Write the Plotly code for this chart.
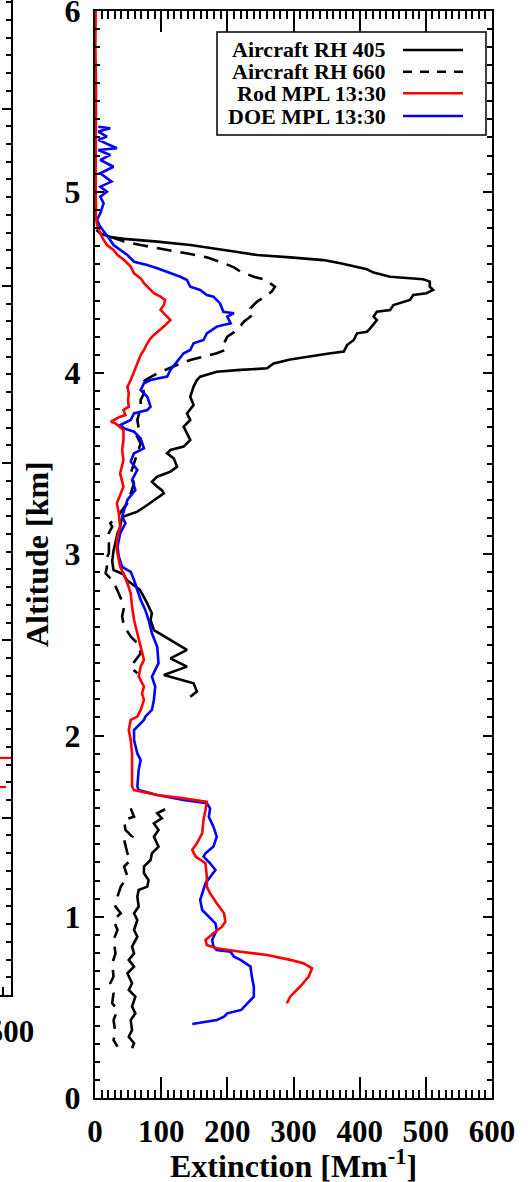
import plotly.graph_objects as go

# ---------------- data ----------------
rh405_alt = [4.79, 4.77, 4.75, 4.74, 4.725, 4.706, 4.679, 4.651, 4.638, 4.623, 4.605, 4.572, 4.554, 4.531,
             4.517, 4.504, 4.476, 4.458, 4.44, 4.43, 4.403, 4.375, 4.348, 4.338, 4.311, 4.292, 4.246, 4.228,
             4.219, 4.182, 4.154, 4.118, 4.109, 4.09, 4.075, 4.053, 4.026, 4.017, 4.007, 3.98, 3.961, 3.925,
             3.869, 3.823, 3.777, 3.741, 3.704, 3.667, 3.631, 3.594, 3.575, 3.557, 3.529, 3.483, 3.456, 3.428,
             3.40, 3.373, 3.354, 3.336, 3.309, 3.272, 3.235, 3.217, 3.208, 3.19, 3.15, 3.115, 3.06, 3.02, 2.96,
             2.913, 2.89, 2.858, 2.803, 2.766, 2.729, 2.674, 2.637, 2.582, 2.527, 2.472, 2.426, 2.38, 2.334,
             2.315, 2.288, 2.242, 2.214,
             None,
             1.593, 1.571, 1.543, 1.515, 1.479, 1.442, 1.387, 1.35, 1.313, 1.277, 1.24, 1.203, 1.166, 1.148,
             1.111, 1.056, 1.019, 0.982, 0.927, 0.89, 0.835, 0.798, 0.762, 0.725, 0.688, 0.633, 0.596, 0.559,
             0.504, 0.467, 0.43, 0.375, 0.338, 0.302, 0.274]
rh405_ext = [2, 8, 23, 44, 94, 144, 195, 245, 295, 345, 371, 411, 421, 446,
             496, 506, 506, 511, 501, 481, 476, 451, 446, 426, 421, 426, 416, 411,
             396, 391, 381, 376, 356, 320, 295, 270, 260, 220, 184, 159, 154, 149,
             144, 149, 139, 144, 134, 139, 144, 134, 114, 109, 119, 124, 114, 94,
             86, 94, 101, 104, 94, 79, 64, 49, 43, 40, 38, 34, 31, 28, 26,
             28, 43, 48, 68, 74, 79, 86, 84, 89, 114, 139, 114, 139, 104,
             124, 149, 154, 144,
             None,
             106, 94, 101, 89, 96, 89, 96, 86, 84, 74, 74, 81, 79, 66,
             64, 66, 59, 64, 59, 64, 56, 59, 51, 59, 49, 56, 51, 61,
             56, 61, 54, 56, 51, 59, 56]

rh660_alt = [4.752, 4.725, 4.706, 4.688, 4.669, 4.657, 4.638, 4.605, 4.583, 4.559, 4.531, 4.513, 4.495, 4.476,
             4.449, 4.43, 4.394, 4.357, 4.329, 4.311, 4.283, 4.237, 4.201, 4.164, 4.127, 4.109, 4.09, 4.072,
             4.044, 4.008, 3.998, 3.961, 3.943, 3.888, 3.851, 3.814, 3.777, 3.741, 3.695, 3.667, 3.612, 3.557,
             3.502, 3.446, 3.391, 3.336, 3.281, 3.244, 3.208, 3.171, 3.152, 3.097, 3.06, 3.005, 2.968, 2.931,
             2.895, 2.849, 2.803, 2.766, 2.711, 2.656, 2.601, 2.546, 2.509, 2.454, 2.38, 2.362, 2.343,
             None,
             1.598, 1.552, 1.534, 1.479, 1.442, 1.424, 1.35, 1.313, 1.277, 1.222, 1.166, 1.111, 1.056, 1.019,
             0.982, 0.927, 0.872, 0.798, 0.743, 0.67, 0.633, 0.578, 0.523, 0.486, 0.43, 0.357, 0.32, 0.283]
rh660_ext = [23, 44, 69, 94, 124, 144, 169, 195, 210, 220, 240, 260, 265, 272,
             267, 260, 245, 235, 240, 235, 225, 215, 200, 195, 197, 184, 164, 144,
             124, 99, 94, 76, 71, 74, 69, 69, 66, 64, 66, 61, 69, 64,
             59, 54, 59, 54, 49, 41, 34, 23, 26, 18, 21, 21, 16, 18,
             16, 28, 34, 38, 44, 41, 44, 54, 64, 69, 54, 58, 64,
             None,
             54, 59, 44, 46, 56, 44, 49, 54, 44, 49, 39, 34, 31, 39,
             28, 34, 28, 31, 26, 28, 23, 28, 26, 34, 28, 31, 28, 34]

rod_alt = [6.0, 5.8, 5.6, 5.4, 5.2, 5.0, 4.9, 4.881, 4.82, 4.789, 4.77, 4.734, 4.706, 4.679, 4.651, 4.623,
           4.587, 4.55, 4.522, 4.495, 4.467, 4.44, 4.421, 4.403, 4.375, 4.348, 4.311, 4.292, 4.256, 4.228,
           4.21, 4.191, 4.164, 4.127, 4.099, 4.053, 4.026, 3.998, 3.961, 3.925, 3.888, 3.851, 3.814, 3.796,
           3.768, 3.759, 3.741, 3.731, 3.722, 3.686, 3.631, 3.575, 3.52, 3.446, 3.373, 3.281, 3.226, 3.152,
           3.079, 3.024, 2.931, 2.895, 2.839, 2.784, 2.711, 2.637, 2.564, 2.49, 2.417, 2.38, 2.325, 2.27,
           2.233, 2.196, 2.141, 2.104, 2.086, 2.03, 1.975, 1.901, 1.81, 1.718, 1.699, 1.672, 1.653, 1.634,
           1.589, 1.534, 1.46, 1.405, 1.369, 1.332, 1.295, 1.222, 1.166, 1.129, 1.074, 1.019, 0.973, 0.945,
           0.909, 0.872, 0.844, 0.826, 0.807, 0.789, 0.762, 0.743, 0.716, 0.67, 0.615, 0.559, 0.522]
rod_ext = [1, 0.5, 1.5, 1, 1.5, 1, 1.5, 1, 3, 6, 8, 13, 18, 28, 34, 44,
           54, 59, 69, 74, 81, 89, 99, 106, 104, 99, 109, 114, 104, 94,
           89, 84, 79, 74, 69, 64, 61, 59, 54, 49, 51, 50, 51, 43,
           46, 38, 30, 24, 31, 43, 43, 41, 43, 38, 43, 33, 36, 38,
           33, 33, 38, 43, 49, 54, 56, 59, 64, 69, 74, 69, 66, 74,
           71, 74, 69, 64, 54, 51, 54, 56, 56, 56, 59, 94, 134, 169,
           167, 164, 162, 154, 147, 152, 167, 169, 169, 174, 184, 195, 197, 192,
           179, 167, 169, 184, 220, 260, 295, 315, 328, 323, 310, 295, 290]

doe_alt = [5.359, 5.35, 5.332, 5.304, 5.286, 5.24, 5.23, 5.203, 5.175, 5.138, 5.102, 5.056, 5.028, 5.0,
           4.973, 4.936, 4.881, 4.844, 4.807, 4.771, 4.734, 4.706, 4.679, 4.651, 4.614, 4.596, 4.578, 4.559,
           4.531, 4.513, 4.476, 4.458, 4.43, 4.421, 4.384, 4.338, 4.330, 4.311, 4.274, 4.256, 4.219, 4.182,
           4.164, 4.127, 4.109, 4.063, 4.017, 3.98, 3.961, 3.943, 3.906, 3.869, 3.814, 3.796, 3.777, 3.741,
           3.713, 3.694, 3.676, 3.639, 3.584, 3.557, 3.511, 3.465, 3.41, 3.355, 3.3, 3.244, 3.208, 3.171,
           3.115, 3.042, 2.987, 2.931, 2.903, 2.858, 2.803, 2.748, 2.693, 2.637, 2.564, 2.49, 2.399, 2.325,
           2.27, 2.196, 2.141, 2.104, 2.086, 2.03, 1.975, 1.901, 1.864, 1.81, 1.718, 1.699, 1.672, 1.644,
           1.626, 1.598, 1.552, 1.497, 1.442, 1.387, 1.35, 1.332, 1.295, 1.258, 1.185, 1.148, 1.093, 1.037,
           1.001, 0.964, 0.927, 0.872, 0.835, 0.817, 0.807, 0.78, 0.762, 0.725, 0.67, 0.615, 0.559, 0.522,
           0.486, 0.467, 0.449, 0.43, 0.412, 0.408]
doe_ext = [5, 23, 5, 18, 5, 33, 5, 23, 8, 28, 8, 25, 8, 18,
           8, 13, 8, 3, 8, 16, 23, 28, 38, 49, 59, 79, 94, 109,
           129, 139, 144, 159, 169, 179, 189, 194, 210, 200, 205, 184, 169, 164,
           149, 144, 134, 124, 114, 109, 84, 74, 69, 79, 84, 79, 59, 54,
           38, 44, 59, 69, 74, 59, 54, 64, 56, 61, 49, 44, 41, 46,
           38, 34, 36, 41, 54, 59, 64, 69, 76, 81, 86, 94, 96, 86,
           91, 89, 86, 76, 74, 59, 59, 64, 69, 66, 64, 66, 94, 134,
           169, 174, 172, 179, 184, 179, 167, 164, 174, 182, 167, 164, 159, 162,
           172, 182, 184, 177, 179, 184, 205, 210, 220, 235, 237, 240, 240, 230,
           221, 200, 195, 184, 154, 147]

# partial neighbouring panel (only its right edge is visible)
left_alt = [1.337, 1.337, None, 1.173, 1.173]
left_ext = [470, 510, None, 470, 493.6]

legend_names = ["Aircraft RH 405", "Aircraft RH 660", "Rod MPL 13:30", "DOE MPL 13:30"]
legend_colors = ["black", "black", "#ff0000", "#0000ff"]
legend_dashes = ["solid", "dash", "solid", "solid"]

# ---------------- figure ----------------
W, H = 530, 1182
FONT = "Liberation Serif"
LW = 2.6

fig = go.Figure()
fig.add_trace(go.Scatter(x=rh405_ext, y=rh405_alt, mode="lines", name=legend_names[0],
                         line=dict(color="black", width=LW)))
fig.add_trace(go.Scatter(x=rh660_ext, y=rh660_alt, mode="lines", name=legend_names[1],
                         line=dict(color="black", width=LW, dash="15px,9px")))
fig.add_trace(go.Scatter(x=doe_ext, y=doe_alt, mode="lines", name=legend_names[3],
                         line=dict(color="#0000ff", width=LW)))
fig.add_trace(go.Scatter(x=rod_ext, y=rod_alt, mode="lines", name=legend_names[2],
                         line=dict(color="#ff0000", width=LW)))
fig.add_trace(go.Scatter(x=left_ext, y=left_alt, mode="lines", xaxis="x2", yaxis="y2",
                         line=dict(color="#ff0000", width=2.2), showlegend=False))

px_x = lambda p: p / W
px_y = lambda p: 1 - p / H

tickfont_x = dict(family=FONT, size=31, color="black", weight="bold")
tickfont_y = dict(family=FONT, size=32, color="black", weight="bold")

fig.update_layout(
    width=W, height=H, margin=dict(l=0, r=0, t=0, b=0, autoexpand=False),
    paper_bgcolor="white", plot_bgcolor="white", showlegend=False,
    xaxis=dict(domain=[px_x(95), px_x(492)], range=[0, 600], dtick=100, tick0=0,
               ticks="inside", ticklen=21, tickwidth=2, tickcolor="black",
               minor=dict(dtick=10, ticks="inside", ticklen=8, tickwidth=1.5, tickcolor="black"),
               showline=True, linewidth=2, linecolor="black", mirror="ticks",
               showgrid=False, zeroline=False, tickfont=tickfont_x, ticklabelstandoff=5,
               automargin=False, ticklabeloverflow="allow"),
    yaxis=dict(domain=[px_y(1098), px_y(10.5)], range=[0, 6], dtick=1, tick0=0,
               ticks="inside", ticklen=9, tickwidth=2, tickcolor="black",
               minor=dict(dtick=0.1, ticks="inside", ticklen=5, tickwidth=1.5, tickcolor="black"),
               showline=True, linewidth=2, linecolor="black", mirror="ticks",
               showgrid=False, zeroline=False, tickfont=tickfont_y, ticklabelstandoff=6,
               automargin=False, ticklabeloverflow="allow"),
    xaxis2=dict(domain=[0, px_x(11)], range=[486, 500], dtick=100, tick0=0, anchor="y2",
                ticks="inside", ticklen=18, tickwidth=2, tickcolor="black",
                minor=dict(dtick=10, ticks="inside", ticklen=8, tickwidth=1.5, tickcolor="black"),
                showline=True, linewidth=2, linecolor="black", showgrid=False, zeroline=False,
                tickfont=tickfont_x, ticklabelstandoff=8, automargin=False,
                ticklabeloverflow="allow"),
    yaxis2=dict(domain=[px_y(995), 1], range=[0, 995 / 177.3], dtick=1, tick0=0, anchor="x2",
                side="right", ticks="inside", ticklen=9, tickwidth=2, tickcolor="black",
                minor=dict(dtick=0.1, ticks="inside", ticklen=5, tickwidth=1.5, tickcolor="black"),
                showline=True, linewidth=2, linecolor="black", showgrid=False, zeroline=False,
                showticklabels=False, automargin=False),
)

titlefont = dict(family=FONT, size=32, color="black", weight="bold")
fig.add_annotation(text="Extinction [Mm<sup>-1</sup>]", xref="paper", yref="paper",
                   x=px_x(293.5), y=px_y(1164), xanchor="center", yanchor="middle",
                   showarrow=False, font=titlefont)
fig.add_annotation(text="Altitude [km]", xref="paper", yref="paper",
                   x=px_x(37), y=px_y(554), xanchor="center", yanchor="middle",
                   textangle=-90, showarrow=False, font=titlefont)

# legend box drawn by hand (text on the left, line sample on the right)
fig.add_shape(type="rect", xref="paper", yref="paper",
              x0=px_x(217), x1=px_x(486), y0=px_y(135), y1=px_y(32),
              line=dict(color="black", width=1.5), fillcolor="white", layer="above")
rows = [50, 71.7, 93.3, 116]
legfont = dict(family=FONT, size=22, color="black", weight="bold")
for name, col, dash, ry in zip(legend_names, legend_colors, legend_dashes, rows):
    fig.add_annotation(text=name, xref="paper", yref="paper", x=px_x(388), y=px_y(ry),
                       xanchor="right", yanchor="middle", showarrow=False, font=legfont)
    fig.add_shape(type="line", xref="paper", yref="paper",
                  x0=px_x(403), x1=px_x(463), y0=px_y(ry), y1=px_y(ry), layer="above",
                  line=dict(color=col, width=2.6, dash="9px,8px" if dash == "dash" else "solid"))

fig.write_html("out.html")
